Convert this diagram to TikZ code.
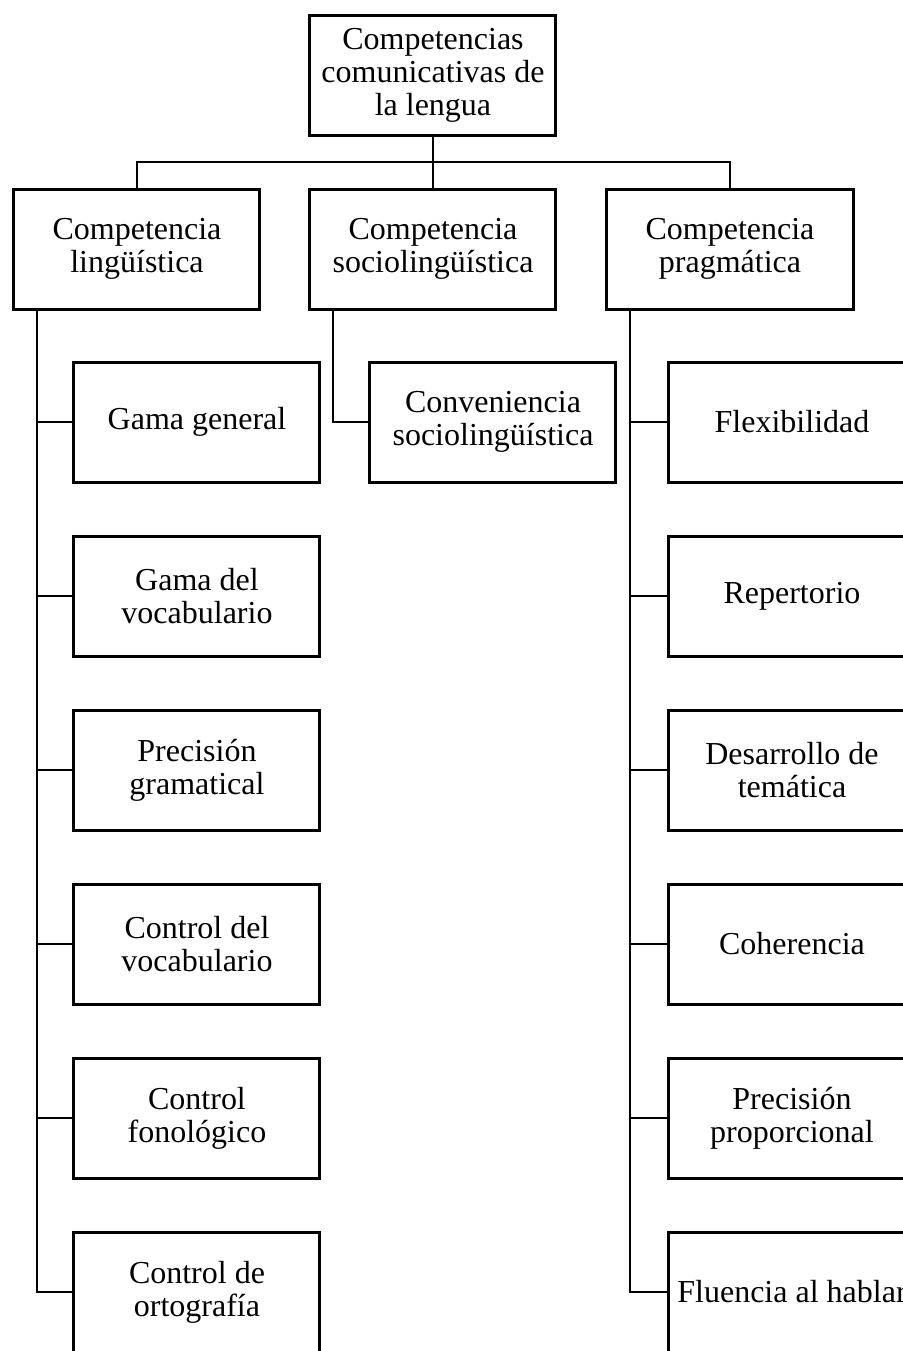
\documentclass[tikz,border=0pt]{standalone}
\usepackage{fontspec}
\setmainfont{Liberation Serif}
\usetikzlibrary{positioning,calc}

\begin{document}
\begin{tikzpicture}[font=\fontsize{16pt}{16.5pt}\selectfont, node distance=25.5pt,
      cb/.style={draw,line width=1.5pt,minimum width=123pt,
                 minimum height=60pt,inner xsep=2pt,align=center},
      ln/.style={line width=1pt}]
    \useasboundingbox (-216.5pt,37.5pt) rectangle (235pt,-638pt);

    \node[cb] (CC) {Competencias\\comunicativas de\\la lengua};
    \node[cb, below=25.5pt of CC] (S) {Competencia\\sociolingüística};
    \node[cb, left=23.5pt of S] (L) {Competencia\\lingüística};
    \node[cb, right=24pt of S] (P) {Competencia\\pragmática};

    % linguistica
    \node[cb, below=25pt of L, xshift=30pt] (L1) {Gama general};
    \node[cb, below=of L1] (L2) {Gama del\\vocabulario};
    \node[cb, below=of L2] (L3) {Precisión\\gramatical};
    \node[cb, below=of L3] (L4) {Control del\\vocabulario};
    \node[cb, below=of L4] (L5) {Control\\fonológico};
    \node[cb, below=of L5] (L6) {Control de\\ortografía};

    % sociolinguistica
    \node[cb, below=25pt of S, xshift=30pt] (S1) {Conveniencia\\sociolingüística};

    % pragmatica
    \node[cb, below=25pt of P, xshift=31pt] (P1) {Flexibilidad};
    \node[cb, below=of P1] (P2) {Repertorio};
    \node[cb, below=of P2] (P3) {Desarrollo de\\temática};
    \node[cb, below=of P3] (P4) {Coherencia};
    \node[cb, below=of P4] (P5) {Precisión\\proporcional};
    \node[cb, below=of P5] (P6) {Fluencia al hablar};

    % top bus
    \draw[ln] (CC.south) -- (S.north);
    \draw[ln] (L.north) |- ($(CC.south)!.5!(S.north)$) -| (P.north);

    % trunks
    \coordinate (LT) at ([xshift=12.5pt]L.south west);
    \coordinate (ST) at ([xshift=12.5pt]S.south west);
    \coordinate (PT) at ([xshift=12.5pt]P.south west);

    \draw[ln] (LT) |- (L6.west);
    \draw[ln] (LT |- L1.west) -- (L1.west);
    \draw[ln] (LT |- L2.west) -- (L2.west);
    \draw[ln] (LT |- L3.west) -- (L3.west);
    \draw[ln] (LT |- L4.west) -- (L4.west);
    \draw[ln] (LT |- L5.west) -- (L5.west);

    \draw[ln] (ST) |- (S1.west);

    \draw[ln] (PT) |- (P6.west);
    \draw[ln] (PT |- P1.west) -- (P1.west);
    \draw[ln] (PT |- P2.west) -- (P2.west);
    \draw[ln] (PT |- P3.west) -- (P3.west);
    \draw[ln] (PT |- P4.west) -- (P4.west);
    \draw[ln] (PT |- P5.west) -- (P5.west);
  \end{tikzpicture}
\end{document}
